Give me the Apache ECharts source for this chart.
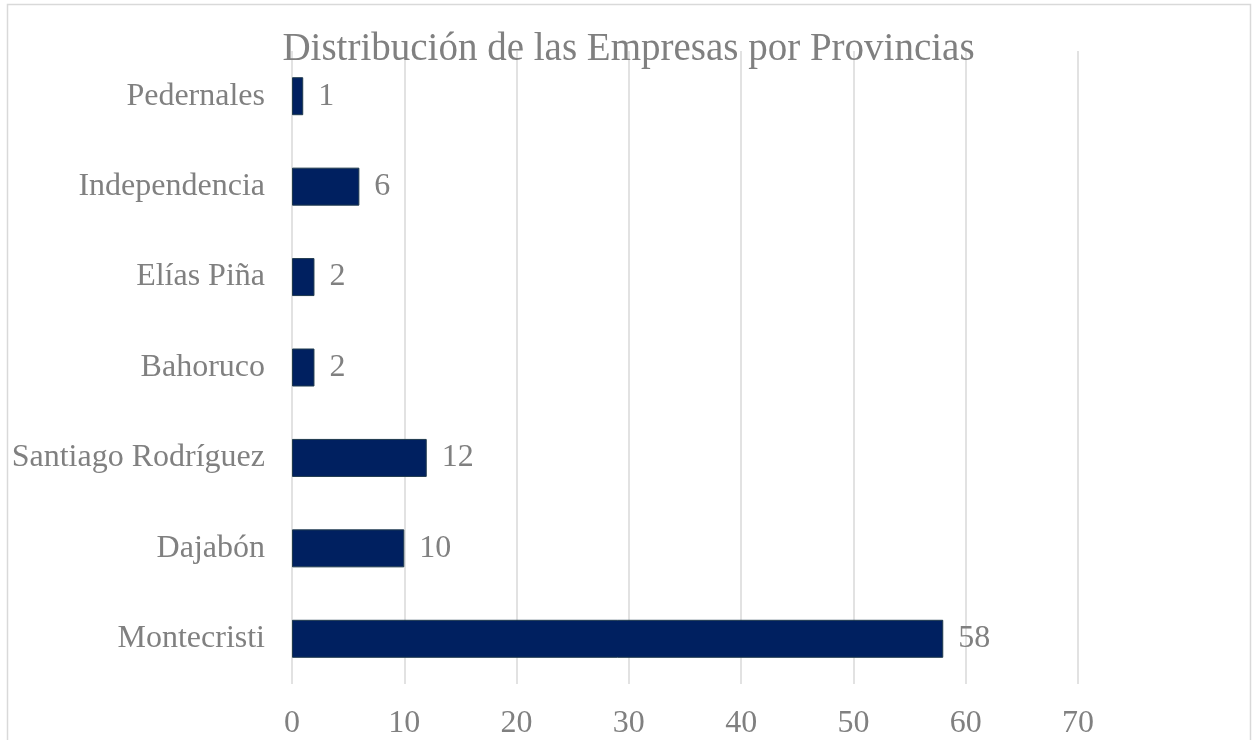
<!DOCTYPE html>
<html>
<head>
<meta charset="utf-8">
<script src="https://cdn.jsdelivr.net/npm/echarts@6/dist/echarts.min.js"></script>
<style>
  html, body { margin: 0; padding: 0; background: #fff; }
  #chart { width: 1257px; height: 740px; }
</style>
</head>
<body>
<div id="chart"></div>
<script>
// 数据
const provincias = ['Montecristi', 'Dajabón', 'Santiago Rodríguez', 'Bahoruco', 'Elías Piña', 'Independencia', 'Pedernales']
const empresas = [58, 10, 12, 2, 2, 6, 1]
const xTicks = [0, 70, 10]

const chart = echarts.init(document.getElementById('chart'))
const font = "'Liberation Serif', 'Times New Roman', serif"

const option = {
  animation: false,
  graphic: [
    {
      type: 'rect',
      shape: { x: 7.5, y: 4.5, width: 1243, height: 760 },
      style: { fill: 'none', stroke: '#d9d9d9', lineWidth: 1.5 },
      silent: true
    }
  ],
  title: {
    text: 'Distribución de las Empresas por Provincias',
    left: 'center',
    top: 25,
    textStyle: { fontFamily: font, fontSize: 39, fontWeight: 'normal', color: '#808080' }
  },
  grid: { left: 292, right: 179, top: 51, bottom: 56 },
  xAxis: {
    type: 'value',
    min: xTicks[0],
    max: xTicks[1],
    interval: xTicks[2],
    axisLine: { show: false },
    axisTick: { show: false },
    axisLabel: { fontFamily: font, fontSize: 32, color: '#808080', margin: 24 },
    splitLine: { lineStyle: { color: '#d9d9d9', width: 1.5 } }
  },
  yAxis: {
    type: 'category',
    data: provincias,
    axisLine: { show: false },
    axisTick: { show: false },
    axisLabel: { fontFamily: font, fontSize: 32, color: '#808080', margin: 27 }
  },
  series: [
    {
      type: 'bar',
      data: empresas,
      barWidth: 38,
      itemStyle: { color: '#002060', borderColor: '#1f3a4d', borderWidth: 1 },
      label: {
        show: true,
        position: 'right',
        distance: 15,
        fontFamily: font,
        fontSize: 32,
        color: '#808080'
      }
    }
  ]
}

chart.setOption(option)
</script>
</body>
</html>
